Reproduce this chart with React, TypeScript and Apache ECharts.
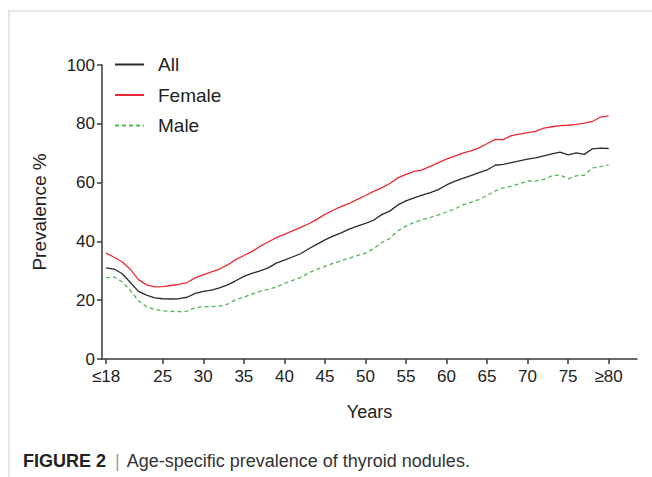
import React, { useEffect, useRef } from "react";
import * as echarts from "echarts";

const ages = [
  18, 19, 20, 21, 22, 23, 24, 25, 26, 27, 28, 29, 30, 31, 32, 33, 34, 35, 36, 37, 38,
  39, 40, 41, 42, 43, 44, 45, 46, 47, 48, 49, 50, 51, 52, 53, 54, 55, 56, 57, 58, 59,
  60, 61, 62, 63, 64, 65, 66, 67, 68, 69, 70, 71, 72, 73, 74, 75, 76, 77, 78, 79, 80,
];

const allValues = [
  31.0, 30.6, 29.0, 26.0, 23.0, 21.7, 20.8, 20.5, 20.4, 20.5, 21.0, 22.3, 23.0, 23.4,
  24.2, 25.2, 26.6, 28.1, 29.1, 30.0, 31.0, 32.6, 33.6, 34.7, 35.8, 37.5, 39.0, 40.5,
  41.8, 42.9, 44.2, 45.2, 46.1, 47.2, 49.1, 50.3, 52.4, 53.8, 54.8, 55.7, 56.6, 57.6,
  59.2, 60.4, 61.4, 62.4, 63.4, 64.3, 65.9, 66.2, 66.8, 67.4, 68.0, 68.4, 69.1, 69.8,
  70.4, 69.4, 70.1, 69.6, 71.5, 71.7, 71.6,
];

const femaleValues = [
  36.0, 34.6, 33.0, 30.5, 27.0, 25.2, 24.5, 24.6, 25.0, 25.4, 26.0, 27.6, 28.6, 29.6,
  30.6, 32.0, 33.8, 35.2, 36.6, 38.3, 39.8, 41.3, 42.4, 43.6, 44.8, 46.0, 47.5, 49.2,
  50.6, 51.8, 52.9, 54.3, 55.6, 57.0, 58.2, 59.7, 61.6, 62.8, 63.8, 64.3, 65.5, 66.8,
  68.0, 69.0, 70.0, 70.8, 71.8, 73.2, 74.7, 74.6, 76.0, 76.5, 77.0, 77.4, 78.5, 79.0,
  79.4, 79.5, 79.8, 80.2, 80.8, 82.3, 82.7,
];

const maleValues = [
  27.6, 27.9, 26.2, 23.3, 19.8, 17.8, 16.8, 16.4, 16.2, 16.1, 16.3, 17.5, 17.8, 17.8,
  18.0, 18.7, 20.2, 21.0, 22.1, 23.0, 23.7, 24.5, 25.7, 26.7, 27.7, 29.3, 30.5, 31.5,
  32.5, 33.4, 34.3, 35.2, 36.0, 37.5, 39.6, 41.0, 43.6, 45.2, 46.5, 47.4, 48.1, 49.0,
  50.0, 51.0, 52.4, 53.3, 54.2, 55.6, 57.2, 58.2, 58.8, 59.6, 60.6, 60.5, 61.1, 62.3,
  62.6, 61.3, 62.3, 62.5, 65.0, 65.4, 66.0,
];

const xTickValues = [18, 25, 30, 35, 40, 45, 50, 55, 60, 65, 70, 75, 80];
const xTickLabels = ["≤18", "25", "30", "35", "40", "45", "50", "55", "60", "65", "70", "75", "≥80"];
const seriesNames = ["All", "Female", "Male"];

const FONT = "'Liberation Sans', Arial, Helvetica, sans-serif";

export default function App() {
  const ref = useRef<HTMLDivElement>(null);

  useEffect(() => {
    if (!ref.current) return;
    const chart = echarts.init(ref.current, undefined, { renderer: "svg" });
    const toPairs = (vals: number[]) => ages.map((a, i) => [a, vals[i]]);
    const axisColor = "#3a3a3a";
    const textColor = "#222";

    chart.setOption({
      animation: false,
      backgroundColor: "#fff",
      textStyle: { fontFamily: FONT },
      grid: { left: 102, top: 65, width: 535, height: 294, containLabel: false },
      legend: {
        orient: "vertical",
        left: 114,
        top: 55,
        padding: 0,
        itemWidth: 29,
        itemHeight: 14,
        itemGap: 11.5,
        data: seriesNames,
        itemStyle: { opacity: 0, borderWidth: 0 },
        textStyle: {
          fontSize: 19,
          color: textColor,
          fontFamily: FONT,
          lineHeight: 19,
          padding: [0, 0, 0, 9],
        },
      },
      xAxis: {
        type: "value",
        min: 17.5,
        max: 83.5,
        name: "Years",
        nameLocation: "middle",
        nameGap: 44,
        nameTextStyle: { fontSize: 18, color: textColor, fontFamily: FONT },
        axisLine: { show: true, onZero: false, lineStyle: { color: axisColor, width: 1.5 } },
        axisTick: {
          show: true,
          length: 5,
          customValues: xTickValues,
          lineStyle: { color: axisColor, width: 1.5 },
        },
        axisLabel: {
          customValues: xTickValues,
          fontSize: 17,
          color: textColor,
          margin: 9,
          fontFamily: FONT,
          formatter: (v: number) => {
            const i = xTickValues.indexOf(Math.round(v));
            return i >= 0 ? xTickLabels[i] : "";
          },
        },
        splitLine: { show: false },
      },
      yAxis: {
        type: "value",
        min: 0,
        max: 100,
        interval: 20,
        name: "Prevalence %",
        nameLocation: "middle",
        nameGap: 53,
        nameTextStyle: { fontSize: 19, color: textColor, fontFamily: FONT },
        axisLine: { show: true, lineStyle: { color: axisColor, width: 1.5 } },
        axisTick: { show: true, length: 5, lineStyle: { color: axisColor, width: 1.5 } },
        axisLabel: { fontSize: 17, color: textColor, margin: 7, fontFamily: FONT },
        splitLine: { show: false },
      },
      series: [
        {
          name: seriesNames[0],
          type: "line",
          data: toPairs(allValues),
          symbol: "none",
          showSymbol: false,
          lineStyle: { color: "#2b2b2b", width: 1.3 },
          itemStyle: { color: "#2b2b2b" },
        },
        {
          name: seriesNames[1],
          type: "line",
          data: toPairs(femaleValues),
          symbol: "none",
          showSymbol: false,
          lineStyle: { color: "#ea2a35", width: 1.3 },
          itemStyle: { color: "#ea2a35" },
        },
        {
          name: seriesNames[2],
          type: "line",
          data: toPairs(maleValues),
          symbol: "none",
          showSymbol: false,
          lineStyle: { color: "#52b452", width: 1.3, type: [4, 3] },
          itemStyle: { color: "#52b452" },
        },
      ],
      graphic: [
        {
          type: "line",
          shape: { x1: 8, y1: 11, x2: 652, y2: 11 },
          style: { stroke: "#cfcfcf", lineWidth: 1 },
        },
        {
          type: "line",
          shape: { x1: 9, y1: 11, x2: 9, y2: 477 },
          style: { stroke: "#cfcfcf", lineWidth: 1 },
        },
        {
          type: "text",
          left: 23,
          top: 452,
          style: {
            text: "{b|FIGURE 2}{s||}{n|Age-specific prevalence of thyroid nodules.}",
            rich: {
              b: { fontSize: 18, fontWeight: "bold", fill: "#222", fontFamily: FONT },
              s: { fontSize: 18, fill: "#999", fontFamily: FONT, padding: [0, 7, 0, 9] },
              n: { fontSize: 18, fill: "#333", fontFamily: FONT },
            },
          },
        },
      ],
    });

    return () => chart.dispose();
  }, []);

  return (
    <div
      ref={ref}
      style={{ position: "fixed", left: 0, top: 0, width: 652, height: 477, background: "#fff" }}
    />
  );
}
